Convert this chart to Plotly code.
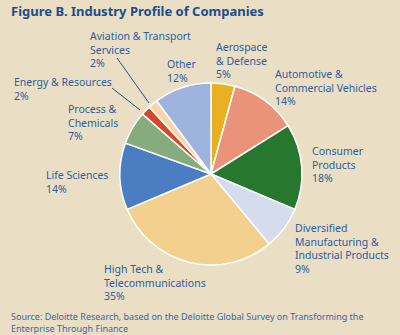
import plotly.graph_objects as go

W, H = 400, 335

categories = ["Aerospace & Defense", "Automotive & Commercial Vehicles", "Consumer Products",
              "Diversified Manufacturing & Industrial Products", "High Tech & Telecommunications",
              "Life Sciences", "Process & Chemicals", "Energy & Resources",
              "Aviation & Transport Services", "Other"]
values = [5, 14, 18, 9, 35, 14, 7, 2, 2, 12]
label_texts = ["Aerospace<br>& Defense", "Automotive &<br>Commercial Vehicles", "Consumer<br>Products",
               "Diversified<br>Manufacturing &<br>Industrial Products", "High Tech &<br>Telecommunications",
               "Life Sciences", "Process &<br>Chemicals", "Energy & Resources",
               "Aviation & Transport<br>Services", "Other"]
colors = ["#E9B022", "#E8937A", "#27772F", "#D5DCEE", "#F3D08E",
          "#4A7DC2", "#86AC7E", "#D9472A", "#F6D6A4", "#9EB3DD"]
# label top-left positions in pixels
label_pos = [(214, 38), (273, 65), (310, 142), (293, 219), (102, 260),
             (44, 166), (66, 100), (12, 73), (88, 27), (165, 55)]

cx, cy, r = 211, 174, 91

def px(x):
    return x / W

def py(y):
    return 1 - y / H

fig = go.Figure(go.Pie(
    labels=categories, values=values, sort=False, direction="clockwise", rotation=0,
    marker=dict(colors=colors, line=dict(color="#FFFFFF", width=1.5)),
    textinfo="none", hoverinfo="label+value", showlegend=False,
    domain=dict(x=[px(cx - r), px(cx + r)], y=[py(cy + r), py(cy - r)]),
))

label_color = "#2D5C9F"
font_family = "Noto Sans, Open Sans, sans-serif"
annotations = []
for txt, v, (lx, ly) in zip(label_texts, values, label_pos):
    annotations.append(dict(
        x=px(lx), y=py(ly), xref="paper", yref="paper", xanchor="left", yanchor="top",
        text=f"{txt}<br>{v}%", showarrow=False, align="left",
        font=dict(family=font_family, size=10.5, color=label_color),
    ))

annotations.append(dict(
    x=px(9), y=py(0), xref="paper", yref="paper", xanchor="left", yanchor="top",
    text="<b>Figure B. Industry Profile of Companies</b>", showarrow=False, align="left",
    font=dict(family=font_family, size=13, color="#1D4C8A"),
))
annotations.append(dict(
    x=px(9), y=py(308), xref="paper", yref="paper", xanchor="left", yanchor="top",
    text="Source: Deloitte Research, based on the Deloitte Global Survey on Transforming the<br>Enterprise Through Finance",
    showarrow=False, align="left",
    font=dict(family=font_family, size=9, color="#3A64A8"),
))

shapes = [
    dict(type="line", xref="paper", yref="paper", x0=px(117), y0=py(58), x1=px(149), y1=py(103),
         line=dict(color="#2B4E86", width=1)),
    dict(type="line", xref="paper", yref="paper", x0=px(112), y0=py(88), x1=px(140), y1=py(110),
         line=dict(color="#2B4E86", width=1)),
]

fig.update_layout(
    width=W, height=H, margin=dict(l=0, r=0, t=0, b=0),
    paper_bgcolor="#EADFC4", plot_bgcolor="#EADFC4",
    annotations=annotations, shapes=shapes,
)

fig.write_html("out.html")
